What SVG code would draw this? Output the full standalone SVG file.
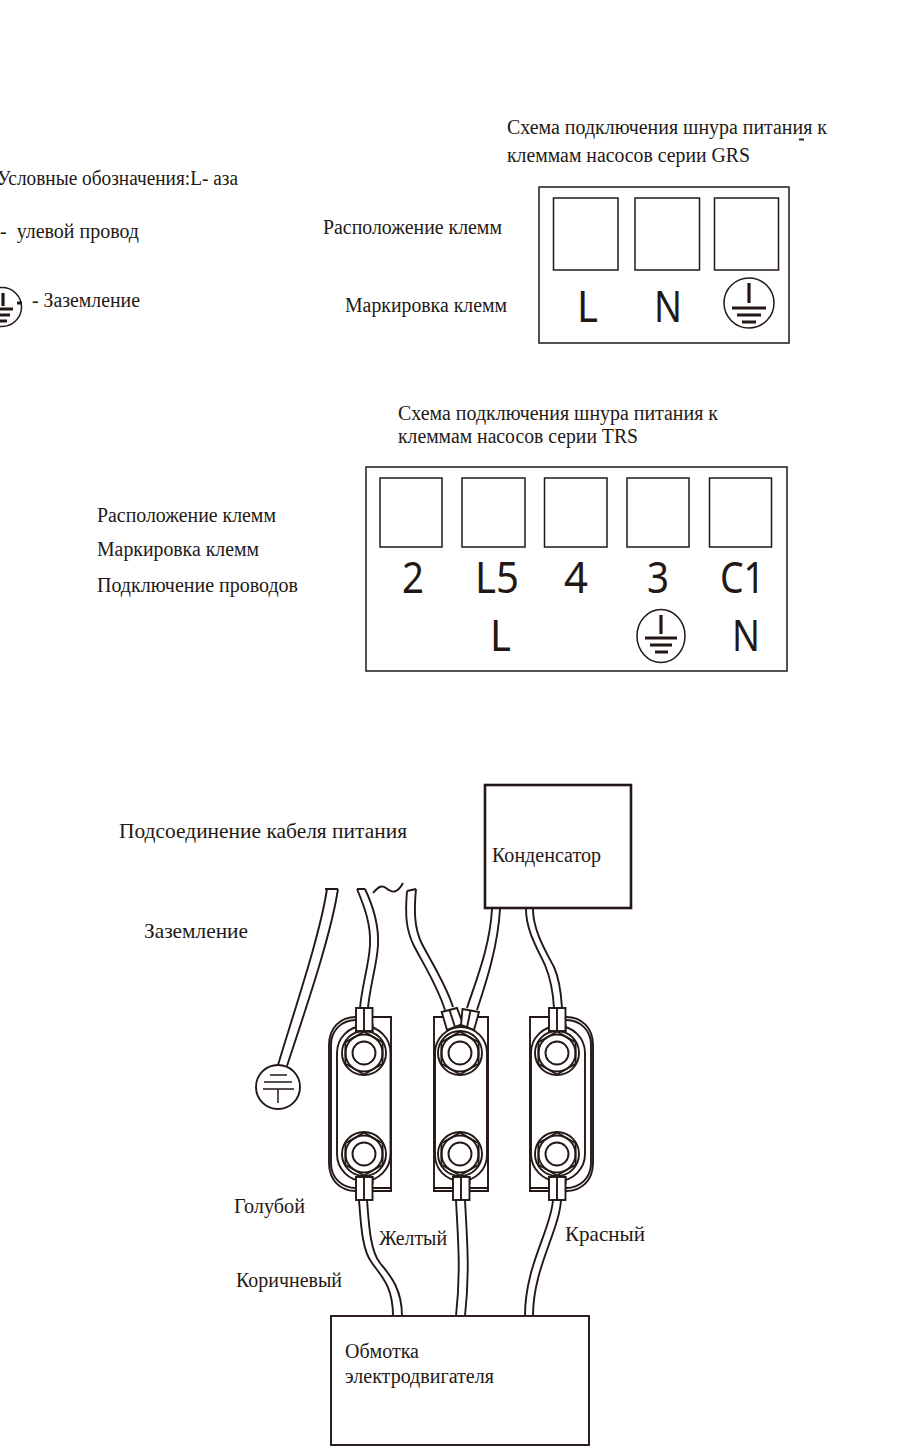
<svg xmlns="http://www.w3.org/2000/svg" width="909" height="1454" viewBox="0 0 909 1454">
<style>
.t{font-family:"Liberation Serif","Noto Serif",serif;font-size:20.5px;fill:#231815}
.m{font-family:"Noto Sans","Open Sans",sans-serif;font-size:43px;fill:#231815}
.l{fill:none;stroke:#231815;stroke-width:1.5}
.w{fill:none;stroke:#231815;stroke-width:1.9}
.k{fill:none;stroke:#231815;stroke-width:1.9}
.f{fill:#fff;stroke:#231815;stroke-width:1.9}
.b{fill:none;stroke:#231815;stroke-width:2.6}
.g{fill:none;stroke:#231815;stroke-width:3.2}
</style>
<defs>
<g id="nut">
<circle class="f" r="22"/>
<polygon class="k" points="0,-21.5 18.6,-10.7 18.6,10.7 0,21.5 -18.6,10.7 -18.6,-10.7"/>
<circle class="k" r="18.500"/>
<circle class="k" r="11.500"/>
</g>
<g id="clip">
<rect class="f" x="-8" y="-11.500" width="16.500" height="23"/>
<path class="k" d="M0,-11.500V11.500"/>
</g>
</defs>

<g id="legend">
<text class="t" x="-3" y="185" textLength="241" lengthAdjust="spacingAndGlyphs">Условные обозначения:L- аза</text>
<text class="t" x="0" y="238" textLength="139" lengthAdjust="spacingAndGlyphs" xml:space="preserve">-  улевой провод</text>
<g id="legend-ground">
<circle class="l" cx="2" cy="307" r="19.500"/>
<path class="g" d="M3,293V306M-8,309H13M-6,315H10M-3,321H7M17,303H22"/>
</g>
<text class="t" x="32" y="307" textLength="108" lengthAdjust="spacingAndGlyphs">- Заземление</text>
</g>

<g id="grs-caption">
<text class="t" x="507" y="134" textLength="320" lengthAdjust="spacingAndGlyphs">Схема подключения шнура питания к</text>
<text class="t" x="507" y="162" textLength="243" lengthAdjust="spacingAndGlyphs">клеммам насосов серии GRS</text>
<path class="k" d="M799,139.500H804"/>
<text class="t" x="323" y="234" textLength="179" lengthAdjust="spacingAndGlyphs">Расположение клемм</text>
<text class="t" x="345" y="312" textLength="162" lengthAdjust="spacingAndGlyphs">Маркировка клемм</text>
</g>
<g id="grs-panel">
<rect class="l" x="539" y="187" width="250" height="156"/>
<rect class="l" x="553.500" y="198" width="64.500" height="72"/>
<rect class="l" x="635" y="198" width="64.500" height="72"/>
<rect class="l" x="714.500" y="198" width="64" height="72"/>
<text class="m" x="577" y="322" textLength="21" lengthAdjust="spacingAndGlyphs">L</text>
<text class="m" x="654" y="322" textLength="28" lengthAdjust="spacingAndGlyphs">N</text>
<circle class="l" cx="749" cy="303" r="25"/>
<path class="g" d="M749,283V303M732,308H766M737,315H761M742,322H756"/>
</g>

<g id="trs-caption">
<text class="t" x="398" y="420" textLength="320" lengthAdjust="spacingAndGlyphs">Схема подключения шнура питания к</text>
<text class="t" x="398" y="443" textLength="240" lengthAdjust="spacingAndGlyphs">клеммам насосов серии TRS</text>
<text class="t" x="97" y="522" textLength="179" lengthAdjust="spacingAndGlyphs">Расположение клемм</text>
<text class="t" x="97" y="556" textLength="162" lengthAdjust="spacingAndGlyphs">Маркировка клемм</text>
<text class="t" x="97" y="592" textLength="201" lengthAdjust="spacingAndGlyphs">Подключение проводов</text>
</g>
<g id="trs-panel">
<rect class="l" x="366" y="467" width="421" height="204"/>
<rect class="l" x="380" y="478" width="62" height="69"/>
<rect class="l" x="462" y="478" width="63" height="69"/>
<rect class="l" x="544.500" y="478" width="62.500" height="69"/>
<rect class="l" x="627" y="478" width="62" height="69"/>
<rect class="l" x="709.500" y="478" width="62" height="69"/>
<text class="m" x="402" y="593" textLength="22" lengthAdjust="spacingAndGlyphs">2</text>
<text class="m" x="475" y="593" textLength="44" lengthAdjust="spacingAndGlyphs">L5</text>
<text class="m" x="564" y="593" textLength="24" lengthAdjust="spacingAndGlyphs">4</text>
<text class="m" x="647" y="593" textLength="22" lengthAdjust="spacingAndGlyphs">3</text>
<text class="m" x="720" y="593" textLength="45" lengthAdjust="spacingAndGlyphs">C1</text>
<text class="m" x="490" y="651" textLength="21" lengthAdjust="spacingAndGlyphs">L</text>
<text class="m" x="732" y="651" textLength="28" lengthAdjust="spacingAndGlyphs">N</text>
<ellipse class="l" cx="661" cy="636" rx="24" ry="26.500"/>
<path class="g" d="M661,615V634M645,638H677M650,645H672M655,652H668"/>
</g>

<g id="labels">
<text class="t" x="119" y="838" textLength="288" lengthAdjust="spacingAndGlyphs" style="font-size:21px">Подсоединение кабеля питания</text>
<text class="t" x="144" y="938" textLength="104" lengthAdjust="spacingAndGlyphs" style="font-size:21px">Заземление</text>
<text class="t" x="234" y="1213" textLength="71" lengthAdjust="spacingAndGlyphs">Голубой</text>
<text class="t" x="379" y="1245" textLength="68" lengthAdjust="spacingAndGlyphs">Желтый</text>
<text class="t" x="565" y="1241" textLength="80" lengthAdjust="spacingAndGlyphs" style="font-size:21px">Красный</text>
<text class="t" x="236" y="1287" textLength="106" lengthAdjust="spacingAndGlyphs">Коричневый</text>
</g>

<g id="connectors">
<path class="w" d="M325,889H338M327,889C320,935 296,1005 278,1065M338,889C331,935 307,1005 287,1066"/>
<path class="w" d="M357,889H365M357,889C365,908 371,925 370,945C369,965 362,985 360,1008M365,889C374,908 379,925 378,945C377,965 370,985 368,1008"/>
<path class="w" d="M373,893C379,886 382,885 386,888C392,893 397,894 403,883"/>
<path class="w" d="M407,891L416,889M407,891C405,915 406,930 414,946C424,965 437,985 445,1010M416,889C414,910 414,928 422,944C432,963 446,985 453,1007"/>
<path class="w" d="M492,909C490,945 478,975 467,1008M500,909C498,945 487,980 477,1010"/>
<path class="w" d="M526,909C526,930 537,948 545,965C550,977 553,990 554,1008M533,909C533,930 545,950 554,967C559,978 561,992 562,1008"/>
<path class="w" d="M359,1200C361,1225 362,1250 372,1263C380,1275 393,1285 393,1316M367,1200C369,1225 370,1250 380,1263C388,1273 402,1287 402,1316"/>
<path class="w" d="M456,1200C458,1240 461,1270 456,1316M465,1200C467,1240 470,1270 465,1316"/>
<path class="w" d="M553,1200C551,1230 525,1265 525,1316M561,1200C559,1232 533,1268 533,1316"/>
</g>

<g id="ground-symbol">
<circle class="f" cx="278" cy="1087" r="22"/>
<path class="l" d="M270,1075H287M264,1082H292M263,1089H294M278,1089V1103"/>
</g>

<g id="terminal-left">
<path class="k" d="M356,1017C340,1017 329,1028 329,1045V1163C329,1180 340,1191 356,1191M356,1020C342,1020 331,1030 331,1045V1163C331,1178 342,1188 356,1188M372,1017H391V1191H372M372,1188H391"/>
<rect class="k" x="337" y="1026" width="53.500" height="155" rx="27"/>
<use href="#nut" x="364" y="1053"/>
<use href="#nut" x="364" y="1154"/>
<rect class="f" x="356" y="1025" width="16.500" height="6"/>
<rect class="f" x="356" y="1177" width="16.500" height="6"/>
<use href="#clip" x="364" y="1019.500"/>
<use href="#clip" x="364" y="1188.500"/>
</g>

<g id="terminal-middle">
<path class="k" d="M434,1017H488V1191H434ZM434,1188H488"/>
<rect class="k" x="435" y="1027" width="52" height="154" rx="26"/>
<use href="#nut" x="460" y="1053"/>
<use href="#nut" x="460" y="1154"/>
<path class="f" d="M441.700,1012L457,1008L463,1024L447,1030Z"/>
<path class="k" d="M449.500,1010L455,1027"/>
<path class="f" d="M462.500,1009L479,1012L474,1030L461,1025Z"/>
<path class="k" d="M470.500,1010.500L467,1027.500"/>
<rect class="f" x="453" y="1177" width="16.500" height="6"/>
<use href="#clip" x="461" y="1188.500"/>
</g>

<g id="terminal-right">
<path class="k" d="M566,1017C582,1017 593,1028 593,1045V1163C593,1180 582,1191 566,1191M566,1020C580,1020 591,1030 591,1045V1163C591,1178 580,1188 566,1188M549,1017H530V1191H549M530,1188H549"/>
<rect class="k" x="531" y="1026" width="54" height="155" rx="27"/>
<use href="#nut" x="557" y="1053"/>
<use href="#nut" x="557" y="1154"/>
<rect class="f" x="549" y="1025" width="16.500" height="6"/>
<rect class="f" x="549" y="1177" width="16.500" height="6"/>
<use href="#clip" x="557" y="1019.500"/>
<use href="#clip" x="557" y="1188.500"/>
</g>

<g id="capacitor">
<rect class="b" x="485" y="785" width="146" height="123"/>
<text class="t" x="492" y="862" textLength="109" lengthAdjust="spacingAndGlyphs">Конденсатор</text>
</g>

<g id="motor-winding">
<rect class="k" x="331" y="1316" width="258" height="129"/>
<text class="t" x="345" y="1358" textLength="74" lengthAdjust="spacingAndGlyphs">Обмотка</text>
<text class="t" x="345" y="1383" textLength="149" lengthAdjust="spacingAndGlyphs">электродвигателя</text>
</g>
</svg>
